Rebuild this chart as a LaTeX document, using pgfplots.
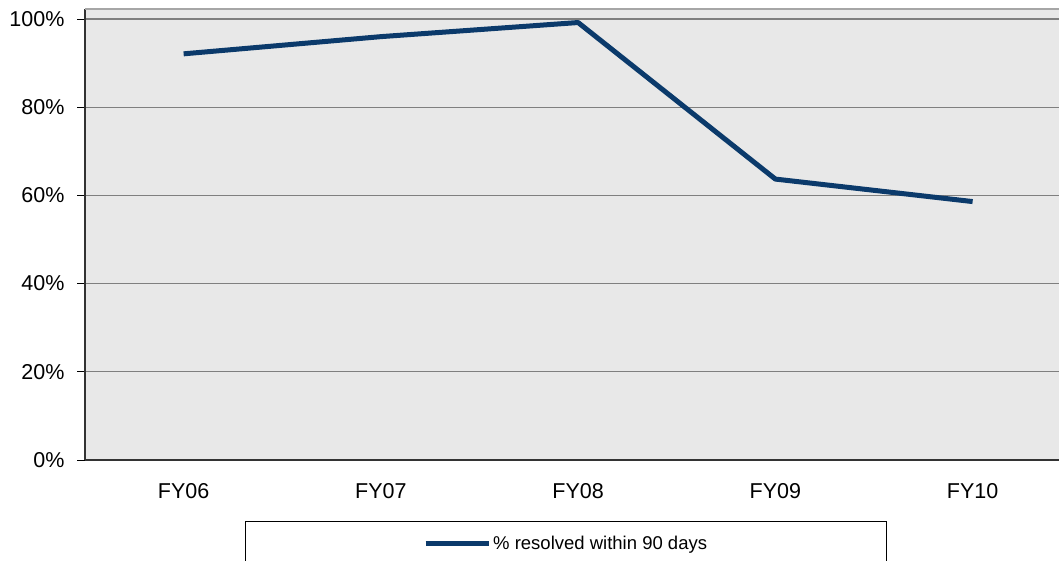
\documentclass[border=0pt]{standalone}
\usepackage{fontspec}
\setmainfont{Liberation Sans}
\usepackage{pgfplots}
\pgfplotsset{compat=1.18}
\definecolor{navy}{HTML}{0B3A6B}
\definecolor{bgc}{HTML}{E8E8E8}
\definecolor{gridc}{HTML}{7F7F7F}
\begin{document}
\begin{tikzpicture}
\begin{axis}[
  at={(85pt,101pt)}, anchor=south west,
  scale only axis, width=974pt, height=451pt,
  xmin=-0.5, xmax=4.438, ymin=0, ymax=102.27,
  axis background/.style={fill=bgc},
  axis x line*=bottom, axis y line*=left,
  axis line style={line width=1.6pt, draw=black!80, -},
  xtick={0,1,2,3,4},
  xticklabels={FY06,FY07,FY08,FY09,FY10},
  major x tick style={draw=none},
  extra x ticks={-0.5,0.5,1.5,2.5,3.5},
  extra x tick labels={},
  extra x tick style={major tick length=8pt, tick style={draw=black, line width=0.8pt}, tick align=outside, xmajorgrids=false},
  ytick={0,20,40,60,80,100},
  yticklabel={\pgfmathprintnumber{\tick}\%},
  ymajorgrids,
  grid style={gridc, line width=1.3pt},
  ytick style={draw=black, line width=0.8pt},
  tick align=outside, major tick length=8pt,
  /pgf/number format/assume math mode=true,
  tick label style={font=\fontsize{21.5}{24}\selectfont},
  yticklabel style={xshift=-9pt},
  xticklabel style={yshift=-12pt},
  clip=false,
  legend style={at={(0.494,-0.186)}, anchor=center, draw=none, fill=none,
    font=\fontsize{18.5}{21}\selectfont, inner sep=0pt},
  legend image code/.code={\draw[#1, line width=5pt] (0pt,0pt) -- (63pt,0pt);},
]
\addplot[navy, line width=5pt, line join=round] coordinates {
  (0,92.1) (1,96.0) (2,99.2) (3,63.7) (4,58.6)
};
\addlegendentry{\% resolved within 90 days}
\draw[gray!70, line width=1.3pt] (rel axis cs:0,1) -- (rel axis cs:1,1);
\end{axis}
\draw[black, line width=0.8pt] (245pt,-10pt) -- (245pt,40pt) -- (886pt,40pt) -- (886pt,-10pt);
\pgfresetboundingbox
\path[use as bounding box] (0,0) rectangle (1059pt,561pt);
\end{tikzpicture}
\end{document}
